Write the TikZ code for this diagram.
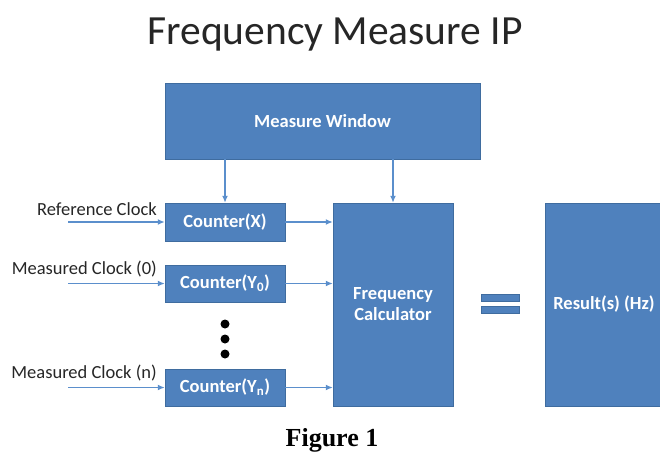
\documentclass[tikz,border=0pt]{standalone}
\usepackage{fontspec}
\setmainfont{Carlito}
\newfontfamily\figfont{Liberation Serif}
\usepackage{xcolor}
\usepackage{tikz}
\usetikzlibrary{arrows.meta,positioning}
\definecolor{blockblue}{HTML}{4F81BD}
\definecolor{edgeblue}{HTML}{3F6C9F}
\definecolor{linkblue}{HTML}{5B8FCC}
\definecolor{labelgray}{HTML}{262626}

\begin{document}
\begin{tikzpicture}[
  x=1pt, y=-1pt,
  block/.style={draw=edgeblue, fill=blockblue, text=white, align=center,
                font=\bfseries\fontsize{18.5}{21}\selectfont, inner sep=0pt},
  bar/.style={draw=edgeblue, fill=blockblue, minimum width=38, minimum height=7, inner sep=0pt},
  dot/.style={circle, fill=black, minimum size=9, inner sep=0pt},
  clk/.style={anchor=south east, inner sep=0pt, text=labelgray,
              font=\fontsize{18.5}{21}\selectfont},
  arrow/.style={-{Latex[length=7pt,width=6pt]}, line width=1.4pt, draw=linkblue}
]
  \useasboundingbox (0,0) rectangle (660,454);
  \node[font=\fontsize{41.5}{48}\selectfont, text=labelgray] (title) at (335,35) {Frequency Measure IP};
  \node[block, minimum width=315, minimum height=76] (window) at (322.5,121) {Measure Window};
  \node[block, minimum width=120, minimum height=38] (cntx) at (225,222) {Counter(X)};
  \node[block, minimum width=120, minimum height=37] (cnty0) at (225,283.5) {Counter(Y\textsubscript{0})};
  \node[block, minimum width=120, minimum height=37] (cntyn) at (225,387.5) {Counter(Y\textsubscript{n})};
  \node[block, minimum width=120, minimum height=203] (calc) at (393,304.5) {Frequency\\Calculator};
  \node[block, minimum width=118, minimum height=203] (result) at (604,304.5) {Result(s) (Hz)};
  \node[bar] (eqtop) at (500,297.5) {};
  \node[bar] (eqbot) at (500,309.5) {};
  \node[dot] (dota) at (225,324) {};
  \node[dot] (dotb) at (225,339) {};
  \node[dot] (dotc) at (225,354) {};
  \coordinate (refin) at (68,222);
  \coordinate (meas0in) at (68,283.5);
  \coordinate (measnin) at (68,387.5);
  \node[clk] (reflbl) at (157,216) {Reference Clock};
  \node[clk] (meas0lbl) at (157,277) {Measured Clock (0)};
  \node[clk] (measnlbl) at (157,381) {Measured Clock (n)};
  \draw[arrow] (refin) -- (cntx);
  \draw[arrow] (meas0in) -- (cnty0);
  \draw[arrow] (measnin) -- (cntyn);
  \draw[arrow] (cntx |- window.south) -- (cntx);
  \draw[arrow] (calc |- window.south) -- (calc);
  \draw[arrow] (cntx) -- (cntx -| calc.west);
  \draw[arrow] (cnty0) -- (cnty0 -| calc.west);
  \draw[arrow] (cntyn) -- (cntyn -| calc.west);
  \node[font=\figfont\bfseries\fontsize{26}{30}\selectfont] (caption) at (332,440) {Figure 1};
\end{tikzpicture}
\end{document}
